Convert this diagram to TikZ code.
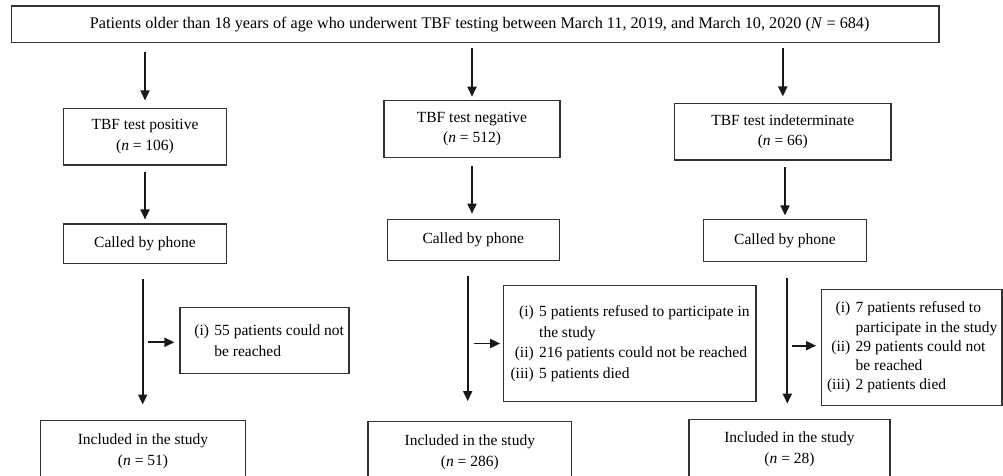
\documentclass[tikz,border=0pt]{standalone}
\usepackage{fontspec}
\setmainfont{Liberation Serif}
\usetikzlibrary{positioning,arrows.meta}
\newcommand{\lbl}[1]{\makebox[1.55em][r]{#1}\hspace{0.35em}}
\newcommand{\cont}{\hspace{1.9em}}

\begin{document}
\begin{tikzpicture}[x=1pt, y=-1pt,
			box/.style={draw=black!80, line width=1.2pt, inner sep=2pt, align=center, font=\fontsize{15.5}{20.5}\selectfont},
			note/.style={box, align=left},
			edge/.style={line width=1.8pt, draw=black!90, -{Triangle[length=10pt,width=9pt]}}
		]
		\useasboundingbox (0,0) rectangle (1003,476);
		\clip (0,0) rectangle (1003,476);

		\node[box, minimum width=927.5, minimum height=36.3, font=\fontsize{16.2}{20}\selectfont] (top) at (475.2,24.2) {\hspace{9pt}Patients older than 18 years of age who underwent TBF testing between March 11, 2019, and March 10, 2020 (\textit{N} = 684)};
		\node[box, minimum width=163.4, minimum height=56.7] (pos) at (145,136.7) {TBF test positive\\(\textit{n} = 106)};
		\node[box, minimum width=176, minimum height=56.6] (neg) at (472,129) {TBF test negative\\(\textit{n} = 512)};
		\node[box, minimum width=216.3, minimum height=56.7] (ind) at (782.8,131.7) {TBF test indeterminate\\(\textit{n} = 66)};
		\node[box, minimum width=163.4, minimum height=39.3] (call1) at (145,243.7) {Called by phone};
		\node[box, minimum width=172, minimum height=41] (call2) at (473.3,239.8) {Called by phone};
		\node[box, minimum width=163.4, minimum height=42.4] (call3) at (785,240.5) {Called by phone};
		\node[note, minimum width=169, minimum height=66] (exc1) at (264.5,340.7) {\lbl{(i)}55 patients could not\\\cont be reached};
		\node[note, minimum width=252.7, minimum height=115.6] (exc2) at (629.7,343.5) {\lbl{(i)}5 patients refused to participate in\\\cont the study\\\lbl{(ii)}216 patients could not be reached\\\lbl{(iii)}5 patients died};
		\node[note, minimum width=180.3, minimum height=116.4, font=\fontsize{15.5}{19.2}\selectfont] (exc3) at (911.8,347.5) {\lbl{(i)}7 patients refused to\\\cont participate in the study\\\lbl{(ii)}29 patients could not\\\cont be reached\\\lbl{(iii)}2 patients died};
		\node[box, minimum width=205, minimum height=61] (inc1) at (143,451.3) {Included in the study\\(\textit{n} = 51)};
		\node[box, minimum width=203.5, minimum height=61] (inc2) at (469.8,452.2) {Included in the study\\(\textit{n} = 286)};
		\node[box, minimum width=201, minimum height=60] (inc3) at (789.5,449.2) {Included in the study\\(\textit{n} = 28)};

		\coordinate (v1) at ([xshift=-2.3pt]call1.south);
		\coordinate (v2) at ([xshift=-5.6pt]call2.south);
		\coordinate (v3) at ([xshift=2.3pt]call3.south);

		\draw[edge, shorten <=9.4pt, shorten >=7.3pt] (top.south -| pos.north) -- (pos.north);
		\draw[edge, shorten <=4.7pt, shorten >=3.4pt] (top.south -| neg.north) -- (neg.north);
		\draw[edge, shorten <=4.7pt, shorten >=6.3pt] (top.south -| ind.north) -- (ind.north);
		\draw[edge, shorten <=6pt, shorten >=4pt] (pos) -- (call1);
		\draw[edge, shorten <=8.4pt, shorten >=5pt] (neg) -- (neg |- call2.north);
		\draw[edge, shorten <=6.7pt, shorten >=3.3pt] (ind.south -| call3.north) -- (call3.north);
		\draw[edge, shorten <=15pt, shorten >=15.7pt] (v1) -- (v1 |- inc1.north);
		\draw[edge, shorten <=15pt, shorten >=20pt] (v2) -- (v2 |- inc2.north);
		\draw[edge, shorten <=15.6pt, shorten >=15pt] (v3) -- (v3 |- inc3.north);
		\draw[edge, shorten <=5.6pt, shorten >=5pt] ([yshift=-1.6pt]exc1.west -| v1) -- ([yshift=-1.6pt]exc1.west);
		\draw[edge, shorten <=6.6pt, shorten >=2.6pt] (exc2.west -| v2) -- (exc2.west);
		\draw[edge, shorten <=4.4pt, shorten >=5pt] ([yshift=1.8pt]exc3.west -| v3) -- ([yshift=1.8pt]exc3.west);
\end{tikzpicture}
\end{document}
